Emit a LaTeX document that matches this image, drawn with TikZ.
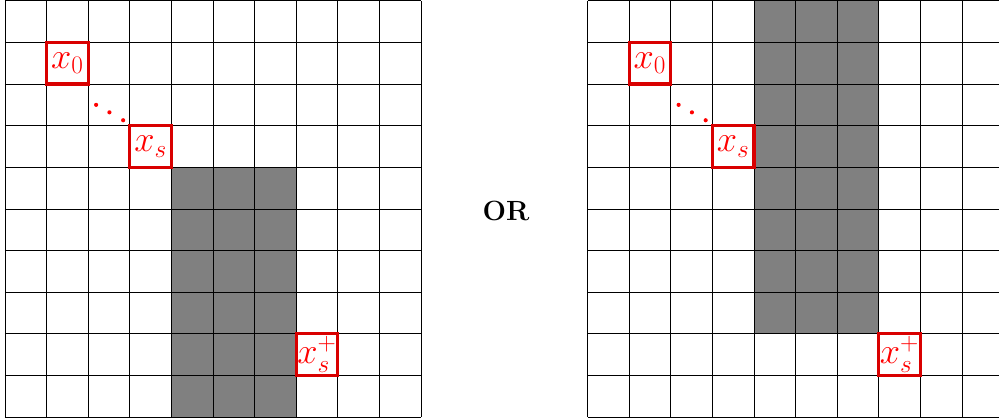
\documentclass[tikz,border=0pt]{standalone}
\usepackage{amsmath}
\usepackage{tikz}
\usetikzlibrary{positioning}

\begin{document}
\begin{tikzpicture}[
    gridline/.style={draw=black, line width=0.5pt},
    blocked/.style={fill=black!50},
    point/.style={draw=red!85!black, line width=2.2pt, minimum size=1cm,
      inner sep=0pt, text=red, fill=white,
      font=\fontsize{24}{28}\selectfont},
    dot/.style={fill=red, draw=none}
  ]
    \useasboundingbox (-0.12,-0.05) rectangle (23.89,10.02);
    \clip (-0.12,-0.05) rectangle (23.89,10.02);
    % left grid
    \fill[blocked] (4,0) rectangle (7,6);
    \draw[gridline] (0,0) grid (10,10);
    \node[point] (x0) at (1.5,8.5) {$x_0$};
    \node[point] (xs) at (3.5,6.5) {$x_s$};
    \node[point] (xp) at (7.5,1.5) {$x_s^+$};
    \fill[dot] (2.19,7.50) circle (0.05);
    \fill[dot] (2.51,7.32) circle (0.05);
    \fill[dot] (2.84,7.13) circle (0.05);
    % right grid
    \fill[blocked] (18,2) rectangle (21,10);
    \draw[gridline] (14,0) grid (24,10);
    \node[point] (y0) at (15.5,8.5) {$x_0$};
    \node[point] (ys) at (17.5,6.5) {$x_s$};
    \node[point] (yp) at (21.5,1.5) {$x_s^+$};
    \fill[dot] (16.19,7.50) circle (0.05);
    \fill[dot] (16.51,7.32) circle (0.05);
    \fill[dot] (16.84,7.13) circle (0.05);
    \node[font=\fontsize{19}{22}\selectfont\bfseries] (or) at (12.04,4.95) {OR};
  \end{tikzpicture}
\end{document}
